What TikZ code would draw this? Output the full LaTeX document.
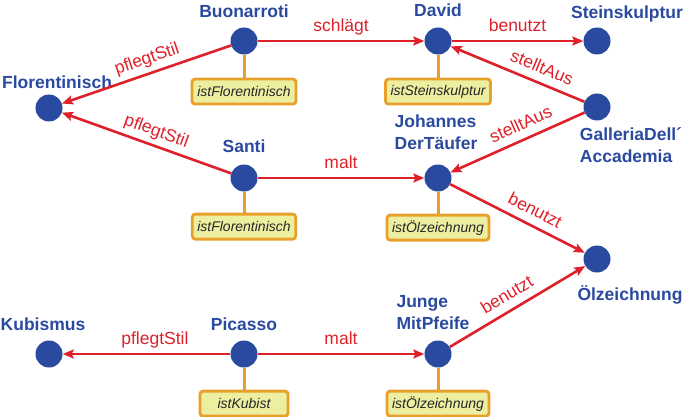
\documentclass[tikz,border=0pt]{standalone}
\usepackage{fontspec}
\setmainfont{Liberation Sans}
\usetikzlibrary{positioning,arrows.meta}
\definecolor{dotblue}{RGB}{42,74,160}
\definecolor{relred}{RGB}{222,32,42}
\definecolor{boxorange}{RGB}{232,160,42}
\definecolor{boxfill}{RGB}{236,238,160}

\begin{document}
\begin{tikzpicture}[x=1pt, y=-1pt,
          dot/.style = {shape=circle, fill=dotblue, minimum size=27pt, inner sep=0pt},
          objname/.style = {text=dotblue, font=\fontsize{17.5}{22}\selectfont\bfseries, inner sep=0pt, text depth=0pt, align=left},
          every label/.style = {objname},
          label distance=10pt,
          attr/.style = {shape=rectangle, rounded corners=3pt, draw=boxorange, fill=boxfill, line width=2.8pt,
                         minimum width=88pt, minimum height=25pt, inner xsep=5pt, inner ysep=0pt,
                         font=\fontsize{14}{16}\selectfont\itshape, text=black!85},
          has/.style = {draw=boxorange, line width=3pt},
          rel/.style = {draw=relred, line width=2.6pt, -{Stealth[length=11pt, width=9pt, inset=2pt]}},
          lbl/.style = {text=relred, font=\fontsize{17.5}{22}\selectfont, inner sep=2pt, text depth=0pt, midway, sloped, above=6pt}]
          \useasboundingbox (0,0) rectangle (685,417);
          % objects
          \node[dot, label={[label distance=6pt, xshift=8pt]above:Florentinisch}] (flor) at (49,108) {};
          \node[dot, label={above:Buonarroti}] (buon) at (244,41) {};
          \node[dot, label={[label distance=11pt]above:David}] (david) at (438,41) {};
          \node[dot, label={[label distance=9pt, xshift=30pt]above:Steinskulptur}] (stein) at (597,41) {};
          \node[dot, label={[label distance=7pt, xshift=34pt]below:GalleriaDell´\\Accademia}] (galleria) at (597,107) {};
          \node[dot, label={[label distance=12pt]above:Santi}] (santi) at (244,178) {};
          \node[dot, label={[label distance=15pt, xshift=-2pt]above:Johannes\\DerTäufer}] (johannes) at (438,178) {};
          \node[dot, label={[label distance=13pt, xshift=33pt]below:Ölzeichnung}] (oel) at (597,259) {};
          \node[dot, label={[xshift=-6pt]above:Kubismus}] (kubismus) at (49,354) {};
          \node[dot, label={above:Picasso}] (picasso) at (244,354) {};
          \node[dot, label={[label distance=11pt, xshift=-5pt]above:Junge\\MitPfeife}] (junge) at (438,354) {};
          % attributes
          \node[attr, below=23pt of buon, minimum width=104pt] (buonattr) {istFlorentinisch};
          \node[attr, below=23pt of david, minimum width=102pt] (davidattr) {istSteinskulptur};
          \node[attr, below=21pt of santi, minimum width=96pt] (santiattr) {istFlorentinisch};
          \node[attr, below=22pt of johannes, minimum width=97pt] (johannesattr) {istÖlzeichnung};
          \node[attr, below=22pt of picasso] (picassoattr) {istKubist};
          \node[attr, below=22pt of junge, minimum width=101pt] (jungeattr) {istÖlzeichnung};
          \foreach \a in {buon, david, santi, johannes, picasso, junge}
            \draw[has] (\a) -- (\a attr);
          % relations
          \draw[rel] (buon) -- node[lbl, pos=0.47] {pflegtStil} (flor);
          \draw[rel] (santi) -- node[lbl, pos=0.47] {pflegtStil} (flor);
          \draw[rel] (buon) -- node[lbl] {schlägt} (david);
          \draw[rel] (david) -- node[lbl] {benutzt} (stein);
          \draw[rel] (galleria) -- node[lbl, pos=0.36] {stelltAus} (david);
          \draw[rel] (galleria) -- node[lbl, pos=0.43] {stelltAus} (johannes);
          \draw[rel] (santi) -- node[lbl] {malt} (johannes);
          \draw[rel] (johannes) -- node[lbl, pos=0.58] {benutzt} (oel);
          \draw[rel] (picasso) -- node[lbl, pos=0.45] {pflegtStil} (kubismus);
          \draw[rel] (picasso) -- node[lbl] {malt} (junge);
          \draw[rel] (junge) -- node[lbl, pos=0.48] {benutzt} (oel);
\end{tikzpicture}
\end{document}
